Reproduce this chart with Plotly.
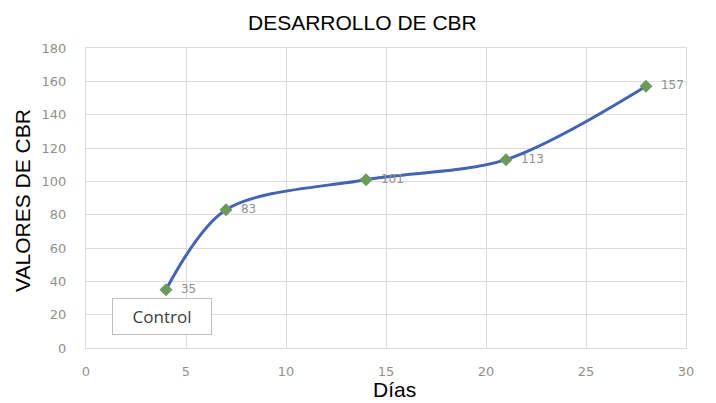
import plotly.graph_objects as go

dias = [4, 7, 14, 21, 28]
cbr = [35, 83, 101, 113, 157]
labels = ["  " + str(v) for v in cbr]

# page body offsets the figure by ~8px; plot area target: x 86..686, y 48..348 in window
OFF = 8
L, T, W, H = 86 - OFF, 48 - OFF, 600, 300
FW, FH = 716, 403

def px(xw):
    return (xw - 86) / W

def py(yw):
    return (348 - yw) / H

fig = go.Figure()
fig.add_trace(go.Scatter(
    x=dias, y=cbr, mode="lines+markers+text",
    line=dict(color="#4463b4", width=3, shape="spline", smoothing=0.9),
    marker=dict(symbol="diamond", size=10, color="#6b9a5c", line=dict(width=0)),
    text=labels, textposition="middle right",
    textfont=dict(family="DejaVu Sans", size=12, color="#909090"),
    showlegend=False, cliponaxis=False,
))

tickfont = dict(family="DejaVu Sans", size=13, color="#909090")
title_font = dict(family="Liberation Sans, Arial", size=21, color="black")
fig.update_layout(
    width=FW, height=FH,
    margin=dict(l=L, r=FW - L - W, t=T, b=FH - T - H),
    paper_bgcolor="white", plot_bgcolor="white",
    xaxis=dict(range=[0, 30], dtick=5, showgrid=True, gridcolor="#dcdcdc", gridwidth=1,
               zeroline=False, ticks="", automargin=False, ticklabelstandoff=11,
               tickfont=tickfont,
               showline=True, linecolor="#dcdcdc", mirror=True, linewidth=1),
    yaxis=dict(range=[0, 180], dtick=20, showgrid=True, gridcolor="#dcdcdc", gridwidth=1,
               zeroline=False, ticks="", automargin=False, ticklabelstandoff=16,
               tickfont=tickfont,
               showline=True, linecolor="#dcdcdc", mirror=True, linewidth=1),
    annotations=[
        dict(text="DESARROLLO DE CBR", x=px(362), y=py(22),
             xref="paper", yref="paper", showarrow=False, xanchor="center", yanchor="middle",
             font=dict(family="Liberation Sans, Arial", size=21, color="black")),
        dict(text="VALORES DE CBR", x=px(22), y=py(201), textangle=-90,
             xref="paper", yref="paper", showarrow=False, xanchor="center", yanchor="middle",
             font=title_font),
        dict(text="Días", x=px(394), y=py(389),
             xref="paper", yref="paper", showarrow=False, xanchor="center", yanchor="middle",
             font=title_font),
        dict(text="Control", x=px(162), y=py(316), xref="paper", yref="paper",
             xanchor="center", yanchor="middle", showarrow=False,
             font=dict(family="Open Sans", size=17, color="#404040"),
             bordercolor="#bfbfbf", borderwidth=1, borderpad=6, bgcolor="white", width=86),
    ],
)

fig.write_html("out.html")
